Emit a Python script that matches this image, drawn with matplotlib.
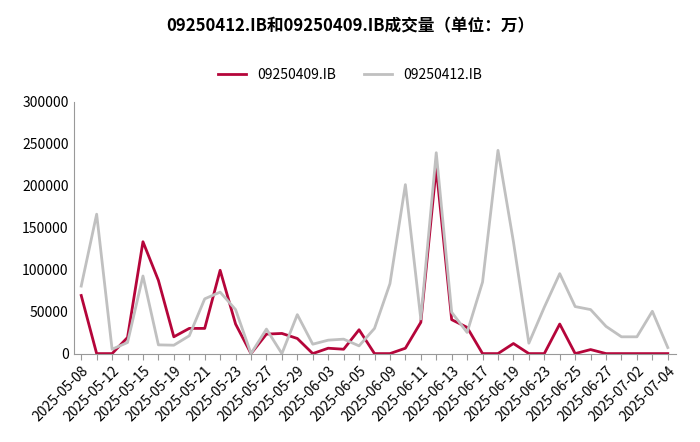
import matplotlib
matplotlib.use("Agg")
import matplotlib.pyplot as plt

dates = ["2025-05-08","2025-05-09","2025-05-12","2025-05-14","2025-05-15","2025-05-16","2025-05-19","2025-05-20",
         "2025-05-21","2025-05-22","2025-05-23","2025-05-26","2025-05-27","2025-05-28","2025-05-29","2025-05-30",
         "2025-06-03","2025-06-04","2025-06-05","2025-06-06","2025-06-09","2025-06-10","2025-06-11","2025-06-12",
         "2025-06-13","2025-06-16","2025-06-17","2025-06-18","2025-06-19","2025-06-20","2025-06-23","2025-06-24",
         "2025-06-25","2025-06-26","2025-06-27","2025-06-30","2025-07-02","2025-07-03","2025-07-04"]
s409 = [69200,0,0,19200,133200,87200,20000,30000,30000,99200,35200,0,23200,24000,18000,0,6400,5200,28400,0,
        0,6400,37200,221200,40400,31200,0,0,12000,0,0,35200,0,4800,0,0,0,0,0]
s412 = [80400,166000,5200,13200,92400,10400,10000,21200,65200,73200,52400,0,29200,0,46400,11200,16000,17200,9200,30000,
        83200,201200,41200,239200,49200,25200,85200,242000,133200,12400,55200,95200,56000,52400,32400,20000,20000,50400,7200]

plt.rcParams['font.family'] = ['Noto Sans CJK SC', 'DejaVu Sans']
fig, ax = plt.subplots(figsize=(7, 4.42), dpi=100)
fig.subplots_adjust(left=0.105, right=0.965, top=0.77, bottom=0.2)
x = range(len(dates))
ax.plot(x, s409, color='#B5053A', lw=2, label='09250409.IB')
ax.plot(x, s412, color='#C0C0C0', lw=2, label='09250412.IB')
ax.set_ylim(0, 300000)
ax.set_yticks(range(0, 300001, 50000))
ax.set_xlim(-0.5, len(dates) - 0.5)
ax.set_xticks(list(x))
ax.set_xticklabels([d if i % 2 == 0 else '' for i, d in enumerate(dates)], rotation=45, ha='right', rotation_mode='anchor', fontsize=10)
ax.tick_params(axis='y', labelsize=10, length=0)
ax.tick_params(axis='x', length=4, color='#999999')
for s in ['top', 'right']:
    ax.spines[s].set_visible(False)
ax.spines['left'].set_color('#999999')
ax.spines['bottom'].set_color('#999999')
fig.suptitle('09250412.IB和09250409.IB成交量（单位：万）', fontsize=12, fontweight='bold', y=0.96)
fig.legend(loc='upper center', bbox_to_anchor=(0.5, 0.875), ncol=2, frameon=False, fontsize=10)
fig.savefig('out.png')
